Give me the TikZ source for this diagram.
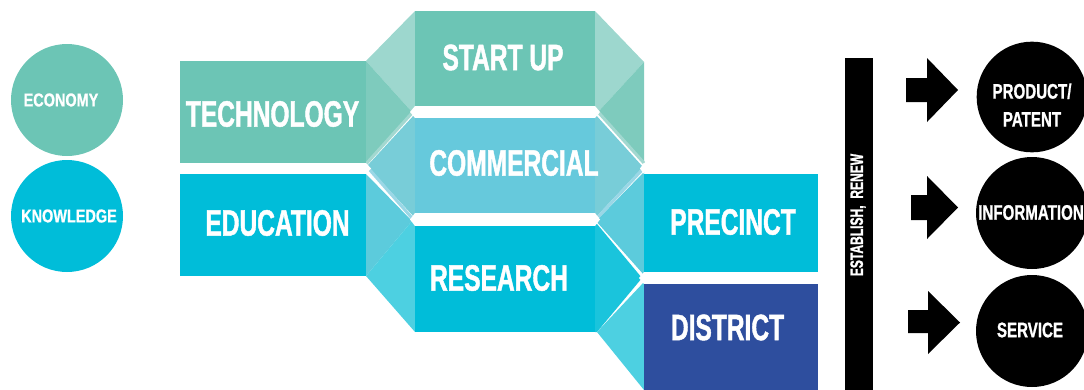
\documentclass[tikz,border=0pt]{standalone}
\usepackage{fontspec}
\setmainfont{Liberation Sans}
\newfontface\bigf{Liberation Sans Bold}[FakeStretch=0.67,FakeBold=1.2]
\newfontface\midf{Liberation Sans Bold}[FakeStretch=0.72,FakeBold=1]
\newfontface\smf{Liberation Sans Bold}[FakeStretch=0.78,FakeBold=1]
\definecolor{cTeal}{HTML}{6CC5B5}
\definecolor{cCyan}{HTML}{00BDD9}
\definecolor{cComm}{HTML}{66C9DC}
\definecolor{cDist}{HTML}{2E4E9E}
\definecolor{cTone}{HTML}{9DD7CE}
\definecolor{cTtwo}{HTML}{7ECBBD}
\definecolor{cCchev}{HTML}{78CDD8}
\definecolor{cEchev}{HTML}{5CCBDC}
\definecolor{cRlchev}{HTML}{4DD0E1}
\definecolor{cRrchev}{HTML}{1AC4DC}
\definecolor{cSone}{HTML}{A2D8D0}
\definecolor{cStwo}{HTML}{9AD7E6}
\begin{document}
\begin{tikzpicture}[x=0.75pt,y=-0.75pt,
  lbl/.style={text=white, inner sep=0pt, font=\bigf\fontsize{27.5}{30}\selectfont},
  clbl/.style={text=white, inner sep=0pt, font=\smf\fontsize{13.9}{16}\selectfont},
  rlbl/.style={text=white, inner sep=0pt, align=center, font=\midf\fontsize{15.75}{21}\selectfont},
  sq/.style={rectangle, inner sep=0pt, outer sep=0pt, draw=none},
  dot/.style={circle, inner sep=0pt, outer sep=0pt, draw=none},
  stripe/.style={line width=2.3pt},
  notch/.style={fill=white}]
\useasboundingbox (0,0) rectangle (1084,389);

% left chevrons
\fill[cTone] (415,11) -- (366,61) -- (412,112) -- (415,112) -- cycle;
\fill[cTtwo] (366,61) -- (412,112) -- (366,163) -- cycle;
\fill[cCchev] (415,114) -- (367,166) -- (415,218) -- cycle;
\fill[cEchev] (366,174) -- (412,221) -- (366,276) -- cycle;
\fill[cRlchev] (412,221) -- (415,221) -- (415,332) -- (366,276) -- cycle;

% right chevrons
\fill[cTone] (595,11) -- (644,62) -- (598,112) -- (595,112) -- cycle;
\fill[cTtwo] (644,62) -- (598,112) -- (644,163) -- cycle;
\fill[cCchev] (595,114) -- (643,167) -- (595,218) -- cycle;
\fill[cEchev] (644,172) -- (596,221) -- (644,275) -- cycle;
\fill[cRrchev] (595,224) -- (597,224) -- (642,278) -- (597,332) -- (595,332) -- cycle;
\fill[cRlchev] (644,282) -- (597,332) -- (644,390) -- cycle;

% stripes
\draw[cSone, stripe] (412,113) -- (366,164);
\draw[cStwo, stripe] (369,169) -- (412,218);
\draw[cSone, stripe] (599,113) -- (644,163);
\draw[cStwo, stripe] (642,170) -- (598,217);

% white notches
\fill[notch] (410,112) -- (415,106) -- (595,106) -- (600,112) -- (595,118) -- (415,118) -- cycle;
\fill[notch] (410,219.5) -- (415,213) -- (595,213) -- (600,219.5) -- (595,226) -- (415,226) -- cycle;
\fill[notch] (180,163) -- (366,163) -- (371,168.5) -- (366,174) -- (180,174) -- cycle;
\fill[notch] (644,163) -- (640,168.5) -- (644,174) -- cycle;
\fill[notch] (644,272) -- (639,278) -- (644,284) -- (818,284) -- (818,272) -- cycle;

% boxes
\node[sq, fill=cTeal, minimum width=139.5pt, minimum height=76.5pt] (tech) at (273,112) {};
\node[sq, fill=cCyan, minimum width=139.5pt, minimum height=76.5pt] (edu) at (273,225) {};
\node[sq, fill=cTeal, minimum width=135pt, minimum height=71.25pt] (startup) at (505,58.5) {};
\node[sq, fill=cComm, minimum width=135pt, minimum height=71.25pt] (comm) at (505,165.5) {};
\node[sq, fill=cCyan, minimum width=135pt, minimum height=79.5pt] (research) at (505,279) {};
\node[sq, fill=cCyan, minimum width=130.5pt, minimum height=73.5pt] (precinct) at (731,223) {};
\node[sq, fill=cDist, minimum width=130.5pt, minimum height=80pt] (district) at (731,337) {};
\node[sq, fill=black, minimum width=21pt, minimum height=250pt] (bar) at (859,224.5) {};

% circles
\node[dot, fill=cTeal, minimum size=84pt] (economy) at (67,100) {};
\node[dot, fill=cCyan, minimum size=84pt] (knowledge) at (67,216) {};
\node[dot, fill=black, minimum size=83pt] (product) at (1032,97) {};
\node[dot, fill=black, minimum size=84pt] (information) at (1032,213) {};
\node[dot, fill=black, minimum size=84pt] (service) at (1032,331) {};

% block arrows
\fill[black] (906,78) -- (927,78) -- (927,58) -- (958,90) -- (927,122) -- (927,102) -- (906,102) -- cycle;
\fill[black] (911,195) -- (927,195) -- (927,176) -- (958,207.5) -- (927,239) -- (927,220) -- (911,220) -- cycle;
\fill[black] (908,310) -- (928,310) -- (928,291) -- (960,322.5) -- (928,354) -- (928,333) -- (908,333) -- cycle;

% labels
\node[lbl] (techT) at (272.5,114) {TECHNOLOGY};
\node[lbl] (eduT) at (277.5,223) {EDUCATION};
\node[lbl] (startupT) at (503,57.5) {START UP};
\node[lbl] (commT) at (514,163) {COMMERCIAL};
\node[lbl] (researchT) at (499,278) {RESEARCH};
\node[lbl] (precinctT) at (733,222) {PRECINCT};
\node[lbl] (districtT) at (727.5,327.5) {DISTRICT};
\node[clbl] (economyT) at (61,100) {ECONOMY};
\node[clbl] (knowledgeT) at (69,216) {KNOWLEDGE};
\node[text=white, inner sep=0pt, rotate=90, font=\bigf\fontsize{13.5}{15}\selectfont] (barT) at (858,215) {ESTABLISH,\ \ RENEW};
\node[rlbl] (productT) at (1032,105) {PRODUCT/\\PATENT};
\node[rlbl] (informationT) at (1031,212.5) {INFORMATION};
\node[rlbl] (serviceT) at (1030,330) {SERVICE};
\end{tikzpicture}
\end{document}
